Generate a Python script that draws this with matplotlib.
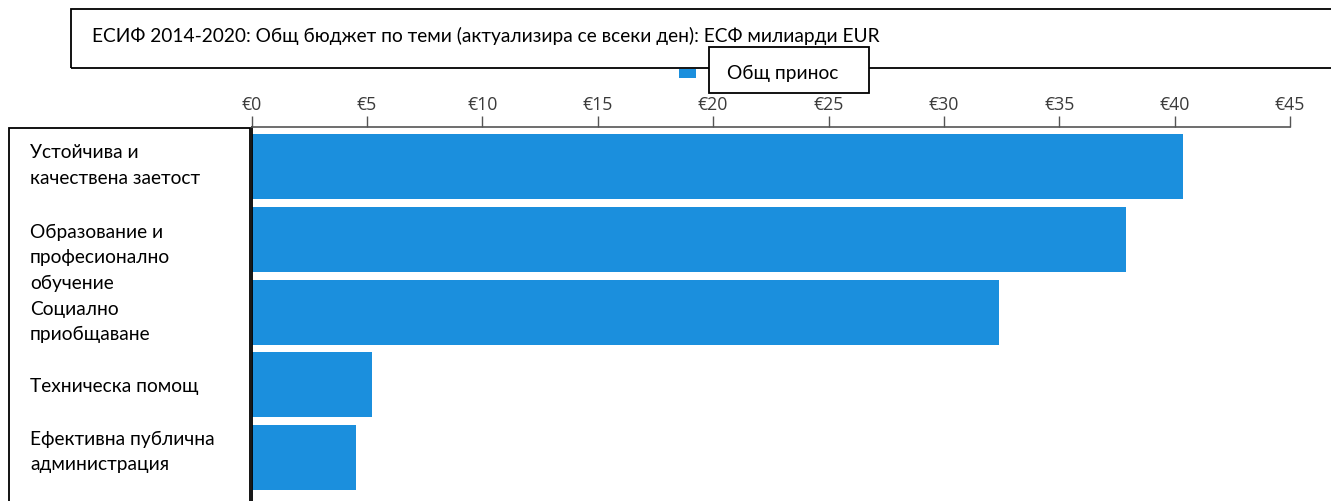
import matplotlib.pyplot as plt
import matplotlib.patches as patches
import matplotlib.transforms as mtransforms
from matplotlib.ticker import FuncFormatter

# ----------------------------
# Data
# ----------------------------
themes = [
    "Устойчива и\nкачествена заетост",
    "Образование и\nпрофесионално\nобучение",
    "Социално\nприобщаване",
    "Техническа помощ",
    "Ефективна публична\nадминистрация",
]
values = [40.38, 37.91, 32.40, 5.20, 4.52]
ticks = [0, 5, 10, 15, 20, 25, 30, 35, 40, 45]

title = "ЕСИФ 2014-2020: Общ бюджет по теми (актуализира се всеки ден): ЕСФ милиарди EUR"
legend_label = "Общ принос"

# ----------------------------
# Style
# ----------------------------
plt.rcParams["font.family"] = ["Lato", "DejaVu Sans"]
BAR_COLOR = "#1b8fdd"
TXT_SIZE = 13.8
W, H = 1331, 502

fig = plt.figure(figsize=(W / 100, H / 100), dpi=100)


def fx(px):
    return px / W


def fy(py):
    return 1 - py / H


# axes: x from 251.7 to 1290 px, y from 128.3 to 502 px
ax = fig.add_axes([fx(251.7), 0, fx(1290) - fx(251.7), fy(128.3)])

y_pos = list(range(len(themes)))
ax.barh(y_pos, values, height=0.894, color=BAR_COLOR)

ax.set_xlim(0, 45)
ax.set_ylim(4.598, -0.542)
ax.set_xticks(ticks)
ax.xaxis.tick_top()
ax.xaxis.set_major_formatter(FuncFormatter(lambda v, p: f"€{v:.0f}"))
ax.tick_params(axis="x", direction="out", length=8, width=1, color="#555555",
               labelcolor="#3a3a3a", labelsize=12.8, pad=2)
for lbl in ax.get_xticklabels():
    lbl.set_family(["Open Sans", "DejaVu Sans"])
ax.set_yticks([])

for side in ["right", "bottom"]:
    ax.spines[side].set_visible(False)
ax.spines["top"].set_color("#555555")
ax.spines["top"].set_linewidth(1.2)
ax.spines["left"].set_color("black")
ax.spines["left"].set_linewidth(1.3)

# category labels inside the left box
label_y = [-0.03, 1.235, 2.125, 3.01, 3.91]
trans = mtransforms.blended_transform_factory(fig.transFigure, ax.transData)
for lab, yy in zip(themes, label_y):
    ax.text(fx(30), yy, lab, transform=trans, ha="left", va="center",
            fontsize=TXT_SIZE, color="black", linespacing=1.6, clip_on=False)

# left label box
fig.patches.append(patches.Rectangle(
    (fx(9), fy(510)), fx(250) - fx(9), fy(129) - fy(510),
    transform=fig.transFigure, fill=False, edgecolor="black", linewidth=1.3))

# title box
fig.patches.append(patches.Rectangle(
    (fx(71), fy(69)), fx(1345) - fx(71), fy(10) - fy(69),
    transform=fig.transFigure, fill=False, edgecolor="black", linewidth=1.3))
fig.text(fx(92), fy(36), title, ha="left", va="center", fontsize=TXT_SIZE)

# legend
fig.patches.append(patches.Rectangle(
    (fx(709), fy(94)), fx(869) - fx(709), fy(48) - fy(94),
    transform=fig.transFigure, facecolor="white", edgecolor="black",
    linewidth=1.3, zorder=3))
fig.patches.append(patches.Rectangle(
    (fx(679), fy(79)), fx(696) - fx(679), fy(70) - fy(79),
    transform=fig.transFigure, facecolor=BAR_COLOR, edgecolor="none"))
fig.text(fx(727), fy(73), legend_label, ha="left", va="center",
         fontsize=TXT_SIZE, zorder=4)

fig.savefig("out.png", dpi=100)
plt.close(fig)
